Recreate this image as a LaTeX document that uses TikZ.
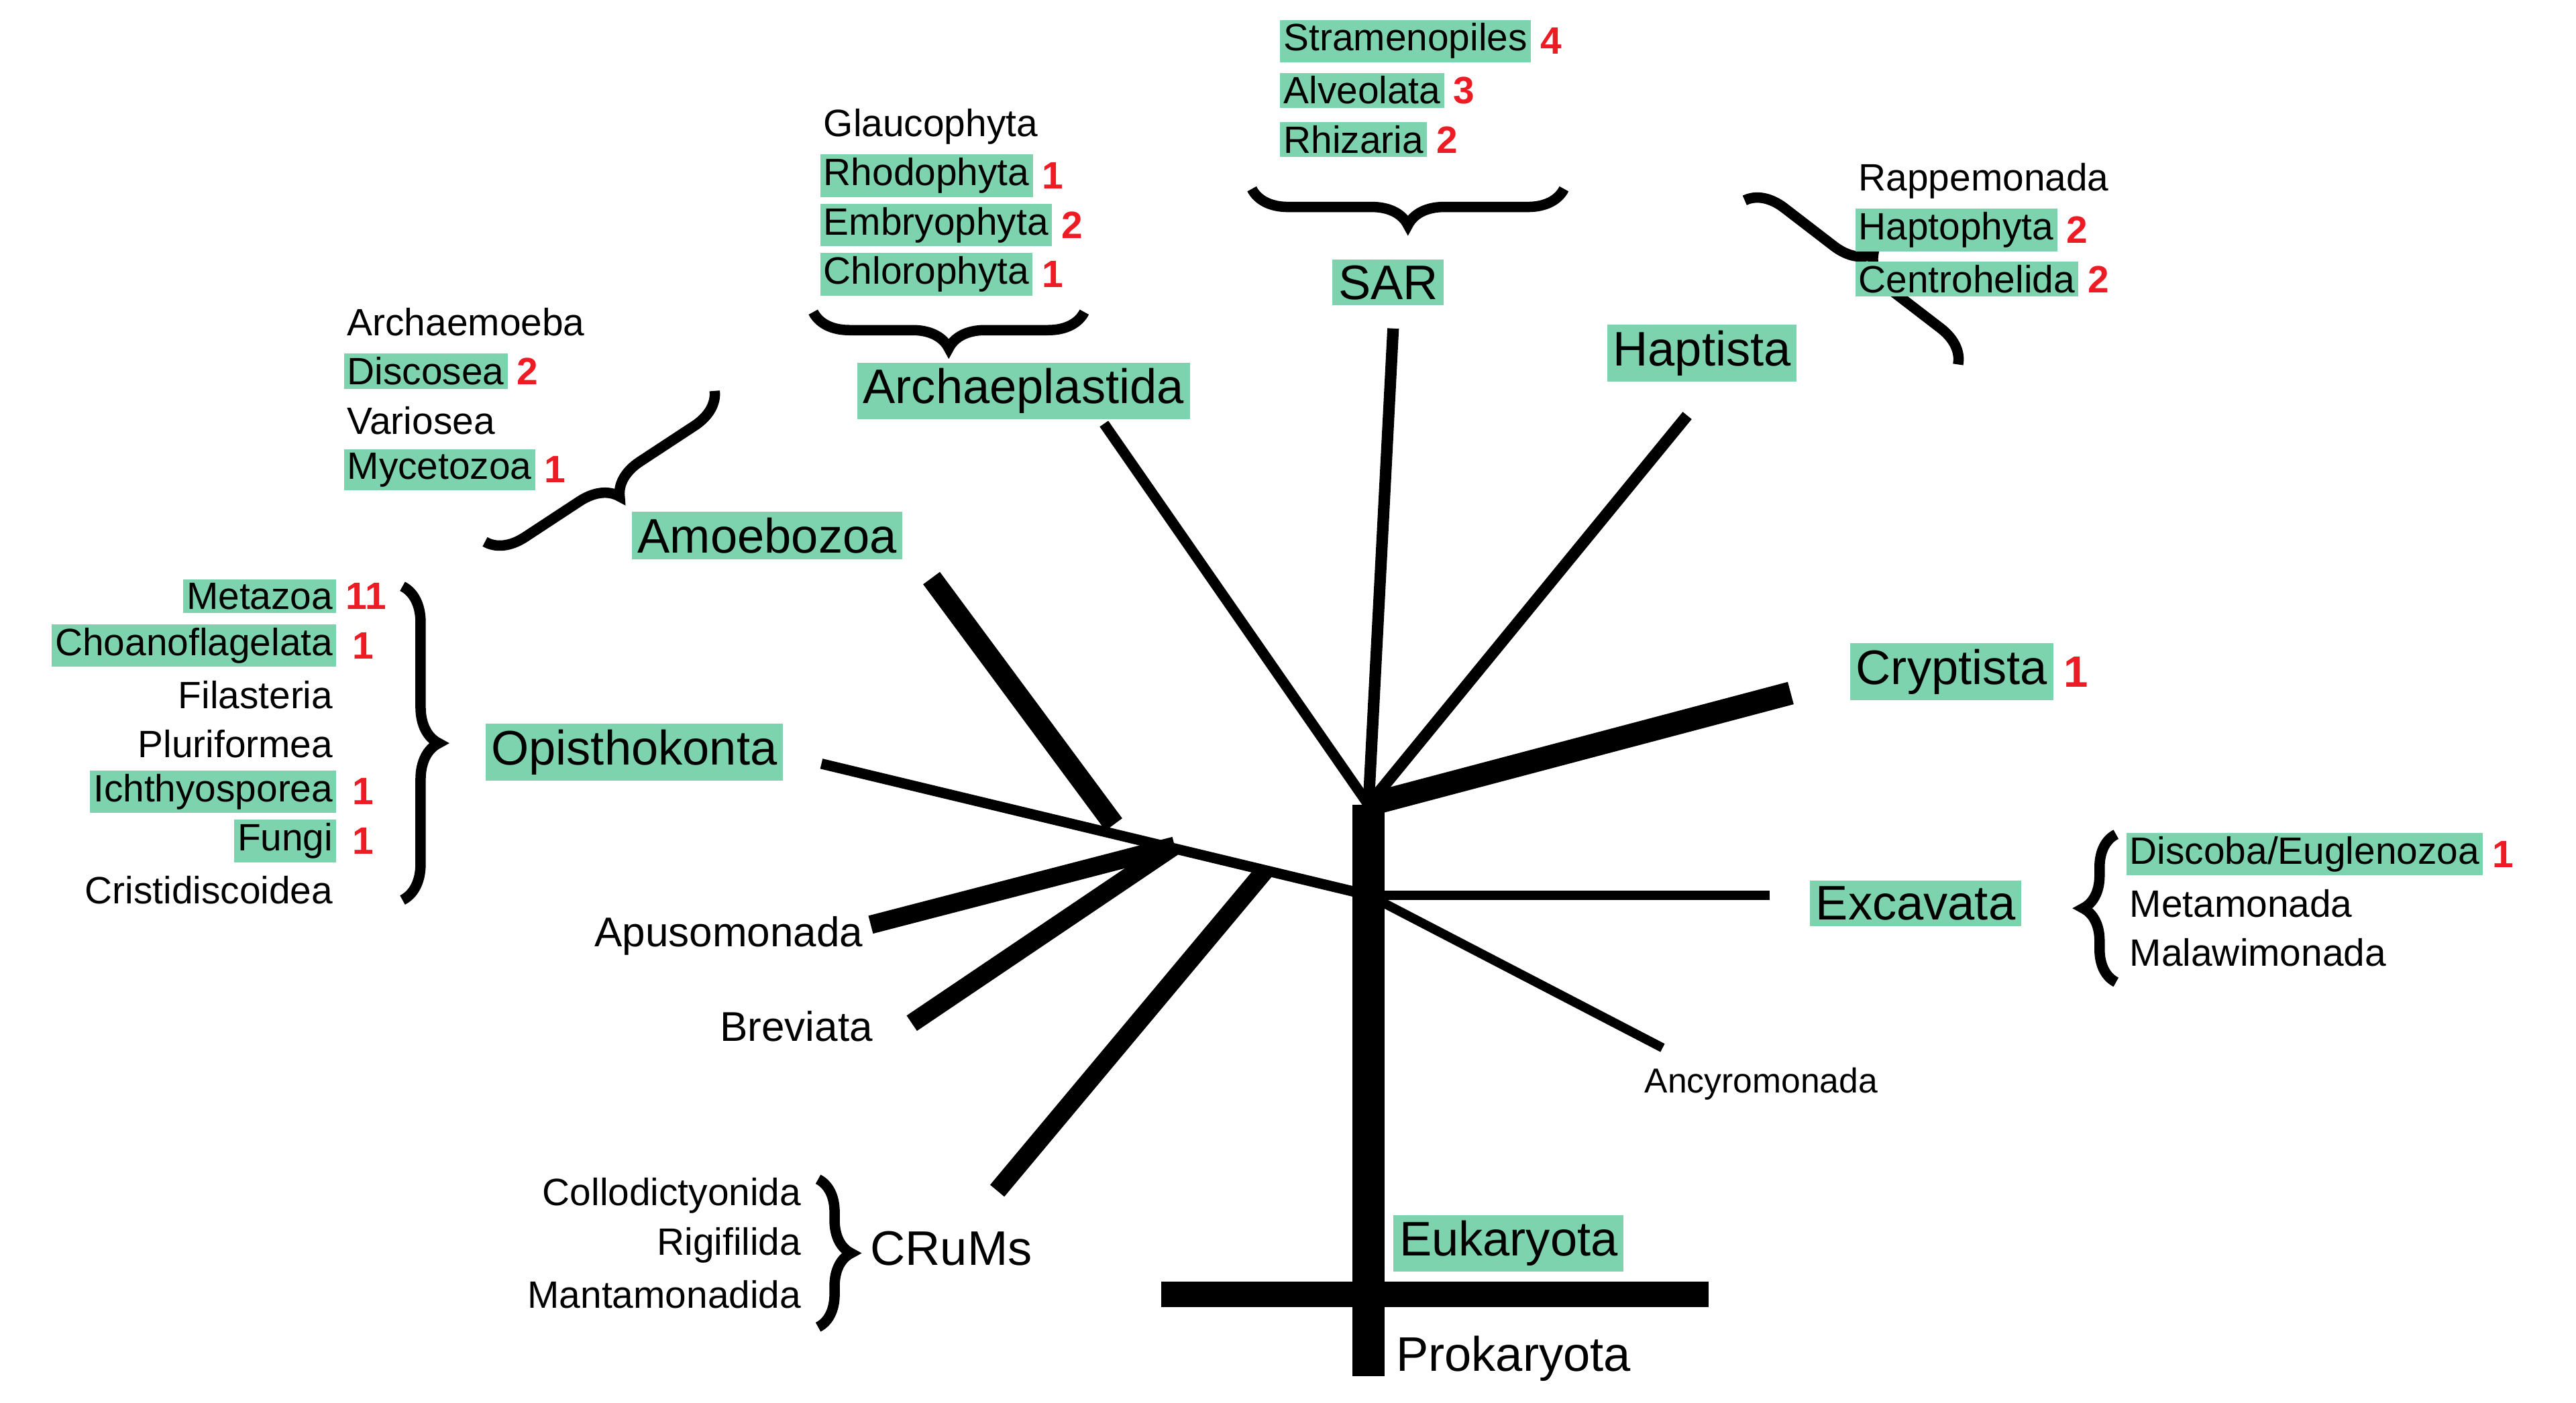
\documentclass[tikz,border=0pt]{standalone}
\usepackage{fontspec}
\setmainfont{Liberation Sans}
\usetikzlibrary{decorations.pathreplacing}
\definecolor{hl}{RGB}{126,211,175}
\definecolor{rd}{RGB}{237,28,36}
\tikzset{
 sm/.style={font=\fontsize{16.5}{19}\selectfont, inner sep=1.5pt, anchor=west},
 smr/.style={sm, anchor=east},
 big/.style={font=\fontsize{21}{24}\selectfont, inner sep=2.5pt},
 g/.style={fill=hl},
 num/.style={font=\fontsize{16.5}{19}\selectfont\bfseries, text=rd, inner sep=1pt, anchor=west},
 br/.style={decorate, decoration={brace, amplitude=#1}, line width=4.5pt},
 br/.default=0.55cm,
 ln/.style={line width=#1, line cap=butt},
}
\begin{document}
\begin{tikzpicture}[x=0.025cm,y=-0.025cm]
\useasboundingbox (0,0) rectangle (1568,854);
% tree
\coordinate (A) at (833,490);
\coordinate (B) at (833,545);
\coordinate (C) at (715,515);
\coordinate (tb) at (833,838);
\coordinate (hl) at (707,788);
\coordinate (hr) at (1040,788);
\draw[ln=14pt] (A) -- (tb);
\draw[ln=11pt] (hl) -- (hr);
\draw[ln=10pt] (A) -- (1090,422);
\draw[ln=5pt] (A) -- (848,200);
\draw[ln=5pt] (A) -- (1027,253);
\draw[ln=4.5pt] (A) -- (672,258);
\draw[ln=4pt] (B) -- (1077,545);
\draw[ln=4pt] (B) -- (1012,638);
\draw[ln=4.5pt] (B) -- (500,465);
\draw[ln=9pt] (678,502) -- (567,352);
\draw[ln=8pt] (C) -- (530,563);
\draw[ln=8pt] (C) -- (555,623);
\draw[ln=8pt] (770,530) -- (607,725);
% braces
\draw[br] (952,115) -- (762,115);
\draw[br] (660,190) -- (495,190);
\draw[br] (435,238) -- (295,330);
\draw[br] (1062,122) -- (1192,222);
\draw[br] (245,357) -- (245,548);
\draw[br=0.5cm] (1288,598) -- (1288,508);
\draw[br=0.5cm] (498,718) -- (498,808);
% SAR
\node[sm,g] (s1) at (779,25) {Stramenopiles}; \node[num] at (s1.east) {\,4};
\node[sm,g] (s2) at (779,55) {Alveolata}; \node[num] at (s2.east) {\,3};
\node[sm,g] (s3) at (779,85) {Rhizaria}; \node[num] at (s3.east) {\,2};
\node[big,g] (sar) at (845,172) {SAR};
% Archaeplastida
\node[sm] (a0) at (499,77) {Glaucophyta};
\node[sm,g] (a1) at (499,107) {Rhodophyta}; \node[num] at (a1.east) {\,1};
\node[sm,g] (a2) at (499,137) {Embryophyta}; \node[num] at (a2.east) {\,2};
\node[sm,g] (a3) at (499,167) {Chlorophyta}; \node[num] at (a3.east) {\,1};
\node[big,g] (arc) at (623,238) {Archaeplastida};
% Amoebozoa
\node[sm] (m0) at (209,196) {Archaemoeba};
\node[sm,g] (m1) at (209,226) {Discosea}; \node[num] at (m1.east) {\,2};
\node[sm] (m2) at (209,256) {Variosea};
\node[sm,g] (m3) at (209,286) {Mycetozoa}; \node[num] at (m3.east) {\,1};
\node[big,g] (amo) at (467,326) {Amoebozoa};
% Haptista
\node[sm] (h0) at (1129,110) {Rappemonada};
\node[sm,g] (h1) at (1129,140) {Haptophyta}; \node[num] at (h1.east) {\,2};
\node[sm,g] (h2) at (1129,170) {Centrohelida}; \node[num] at (h2.east) {\,2};
\node[big,g] (hap) at (1036,215) {Haptista};
% Opisthokonta
\node[smr,g] (o1) at (205,363) {Metazoa}; \node[num] at (o1.east) {\,11};
\node[smr,g] (o2) at (205,393) {Choanoflagelata}; \node[num] at (o2.east) {\,\,1};
\node[smr] (o3) at (205,423) {Filasteria};
\node[smr] (o4) at (205,453) {Pluriformea};
\node[smr,g] (o5) at (205,482) {Ichthyosporea}; \node[num] at (o5.east) {\,\,1};
\node[smr,g] (o6) at (205,512) {Fungi}; \node[num] at (o6.east) {\,\,1};
\node[smr] (o7) at (205,542) {Cristidiscoidea};
\node[big,g] (opi) at (386,458) {Opisthokonta};
% Cryptista
\node[big,g] (cry) at (1188,409) {Cryptista}; \node[num, font=\fontsize{19}{22}\selectfont\bfseries] at (cry.east) {\,1};
% Excavata
\node[big,g] (exc) at (1166,550) {Excavata};
\node[sm,g] (e1) at (1294,520) {Discoba/Euglenozoa}; \node[num] at (e1.east) {\,1};
\node[sm] (e2) at (1294,550) {Metamonada};
\node[sm] (e3) at (1294,580) {Malawimonada};
% others
\node[big, font=\fontsize{18}{21}\selectfont, anchor=east] (apu) at (529,570) {Apusomonada};
\node[big, font=\fontsize{18}{21}\selectfont, anchor=east] (bre) at (535,625) {Breviata};
\node[sm, font=\fontsize{15}{18}\selectfont, anchor=center] (anc) at (1072,660) {Ancyromonada};
\node[big, anchor=west] (cru) at (526,760) {CRuMs};
\node[smr] (c1) at (490,728) {Collodictyonida};
\node[smr] (c2) at (490,758) {Rigifilida};
\node[smr] (c3) at (490,788) {Mantamonadida};
\node[big,g,anchor=west] (euk) at (848,757) {Eukaryota};
\node[big,anchor=west] (pro) at (846,827) {Prokaryota};
\end{tikzpicture}
\end{document}
